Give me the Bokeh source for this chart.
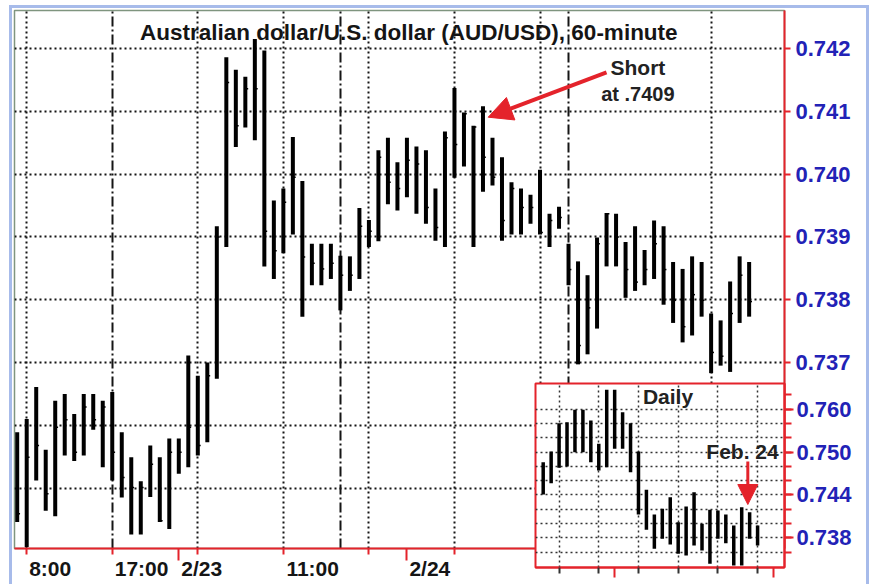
import numpy as np
from bokeh.plotting import figure
from bokeh.models import (FixedTicker, Grid, Label, Arrow, NormalHead, LinearAxis,
                          ColumnDataSource, Range1d, PrintfTickFormatter)
from bokeh.embed import file_html
from bokeh.resources import INLINE

FONT = "Liberation Sans"
RED = "#e4232b"
BLUE = "#2222b6"
INK = "#151515"

# ---------------- 60-minute AUD/USD bars ----------------
hourly_high = [0.73589, 0.73610, 0.73661, 0.73561, 0.73639, 0.73650, 0.73618, 0.73650, 0.73650, 0.73639,
               0.73653, 0.73589, 0.73549, 0.73511, 0.73568, 0.73549, 0.73579, 0.73579, 0.73711, 0.73679,
               0.73700, 0.73917, 0.74186, 0.74166, 0.74155, 0.74215, 0.74197, 0.73958, 0.73977, 0.74059,
               0.73989, 0.73889, 0.73889, 0.73889, 0.73870, 0.73869, 0.73946, 0.73927, 0.74038, 0.74058,
               0.74019, 0.74058, 0.74044, 0.74038, 0.73977, 0.74068, 0.74137, 0.74098, 0.74077, 0.74108,
               0.74058, 0.74027, 0.73987, 0.73977, 0.73967, 0.74007, 0.73937, 0.73948, 0.73889, 0.73861,
               0.73839, 0.73899, 0.73938, 0.73937, 0.73892, 0.73917, 0.73879, 0.73926, 0.73917, 0.73860,
               0.73849, 0.73869, 0.73860, 0.73778, 0.73767, 0.73829, 0.73869, 0.73860]
hourly_low = [0.73446, 0.73406, 0.73512, 0.73464, 0.73455, 0.73552, 0.73543, 0.73552, 0.73593, 0.73533,
              0.73512, 0.73485, 0.73426, 0.73426, 0.73486, 0.73446, 0.73435, 0.73523, 0.73533, 0.73552,
              0.73573, 0.73674, 0.73884, 0.74043, 0.74074, 0.74054, 0.73853, 0.73833, 0.73874, 0.73904,
              0.73773, 0.73823, 0.73823, 0.73833, 0.73783, 0.73814, 0.73833, 0.73884, 0.73893, 0.73952,
              0.73942, 0.73963, 0.73937, 0.73921, 0.73894, 0.73884, 0.73994, 0.74012, 0.73884, 0.73972,
              0.73982, 0.73894, 0.73904, 0.73904, 0.73921, 0.73904, 0.73884, 0.73913, 0.73823, 0.73697,
              0.73713, 0.73754, 0.73853, 0.73853, 0.73803, 0.73814, 0.73823, 0.73833, 0.73792, 0.73763,
              0.73732, 0.73743, 0.73773, 0.73683, 0.73695, 0.73685, 0.73763, 0.73773]
hourly_close = [0.73459, 0.73549, 0.73568, 0.73491, 0.73597, 0.73609, 0.73557, 0.73629, 0.73609, 0.73629,
                0.73557, 0.73517, 0.73501, 0.73501, 0.73538, 0.73448, 0.73557, 0.73557, 0.73597, 0.73568,
                0.73679, 0.73900, 0.74146, 0.74077, 0.74136, 0.74136, 0.73909, 0.73878, 0.73955, 0.73995,
                0.73868, 0.73858, 0.73849, 0.73858, 0.73839, 0.73839, 0.73917, 0.73909, 0.74027, 0.73987,
                0.73977, 0.74022, 0.74016, 0.73947, 0.73915, 0.74058, 0.74047, 0.74096, 0.74075, 0.74027,
                0.73995, 0.73926, 0.73977, 0.73947, 0.73947, 0.73907, 0.73926, 0.73931, 0.73848, 0.73727,
                0.73787, 0.73889, 0.73937, 0.73900, 0.73848, 0.73828, 0.73848, 0.73889, 0.73848, 0.73799,
                0.73757, 0.73808, 0.73799, 0.73716, 0.73710, 0.73778, 0.73839, 0.73797]

price_ticks = [0.737, 0.738, 0.739, 0.740, 0.741, 0.742]
price_grid = [0.735, 0.736, 0.737, 0.738, 0.739, 0.740, 0.741, 0.742]
time_ticks = [1, 10, 17, 28, 41]
time_labels = ["8:00", "17:00", "2/23", "11:00", "2/24"]
day_ticks = [17, 41]
hour_ticks = [1, 10, 19, 28, 37, 46]
dotted_hours = [1, 19, 28, 37, 46, 55, 73]
session_hours = [10, 34, 58]

# ---------------- Daily inset ----------------
daily_high = [0.74859, 0.75008, 0.75404, 0.75418, 0.75592, 0.75592, 0.75442, 0.75116, 0.75871, 0.75871,
              0.75558, 0.75404, 0.75008, 0.74473, 0.74127, 0.74207, 0.74369, 0.74020, 0.74239, 0.74439,
              0.73997, 0.74193, 0.74183, 0.74127, 0.73973, 0.74229, 0.74159, 0.73973]
daily_low = [0.74407, 0.74565, 0.74780, 0.74799, 0.74999, 0.74999, 0.74859, 0.74743, 0.74789, 0.75046,
             0.75046, 0.74719, 0.74127, 0.73913, 0.73648, 0.73787, 0.73708, 0.73578, 0.73554, 0.73694,
             0.73624, 0.73438, 0.73787, 0.73726, 0.73414, 0.73414, 0.73787, 0.73694]
daily_ticks = [0.738, 0.744, 0.750, 0.756]
daily_tick_labels = ["0.738", "0.744", "0.750", "0.760"]
daily_grid = [0.736, 0.738, 0.740, 0.742, 0.744, 0.746, 0.748, 0.750, 0.752, 0.754, 0.756]
daily_minor = [0.736, 0.738, 0.740, 0.742, 0.744, 0.746, 0.748, 0.750, 0.752, 0.754, 0.756, 0.758]
week_days = [2, 7, 12, 17, 22, 27]
month_days = [9, 29]

# ================= main 60-minute chart =================
X0, X1 = -0.284, 80.72
Y0, Y1 = 0.734038, 0.742605
W, H = 854, 576
BL, BR, BT, BB = 2, 82, 2, 36
px_per_bar = (W - BL - BR) / (X1 - X0)

hours = np.arange(len(hourly_high))
src = ColumnDataSource(dict(x=hours, xr=hours + 0.3, high=hourly_high,
                            low=hourly_low, close=hourly_close))

p = figure(width=W, height=H, output_backend="svg", toolbar_location=None,
           x_range=Range1d(X0, X1), y_range=Range1d(Y0, Y1),
           y_axis_location="right",
           min_border_left=BL, min_border_right=BR, min_border_top=BT, min_border_bottom=BB,
           background_fill_color="white", border_fill_color="white",
           outline_line_color="#7f957f", outline_line_width=1.5,
           styles={"position": "absolute", "left": "12px", "top": "8px",
                   "box-shadow": "0 0 0 3px #a7bbea"})

# grids
p.ygrid.ticker = FixedTicker(ticks=price_grid)
p.ygrid.grid_line_color = INK
p.ygrid.grid_line_dash = "2 3"
p.ygrid.grid_line_width = 2
p.xgrid.ticker = FixedTicker(ticks=dotted_hours)
p.xgrid.grid_line_color = INK
p.xgrid.grid_line_dash = "2 3"
p.xgrid.grid_line_width = 2
p.add_layout(Grid(dimension=0, ticker=FixedTicker(ticks=session_hours),
                  grid_line_color=INK, grid_line_dash="10 3 2 3", grid_line_width=2))

# right axis
yax = p.yaxis[0]
yax.ticker = FixedTicker(ticks=price_ticks, minor_ticks=[])
yax.formatter = PrintfTickFormatter(format="%.3f")
yax.axis_line_color = RED
yax.axis_line_width = 2
yax.major_tick_line_color = RED
yax.major_tick_line_width = 2
yax.major_tick_out = 6
yax.major_tick_in = 0
yax.major_label_standoff = 5
yax.major_label_text_font = FONT
yax.major_label_text_font_style = "bold"
yax.major_label_text_font_size = "22px"
yax.major_label_text_color = BLUE

# bottom axis: short ticks on the hour grid, long ticks at the day breaks
xax = p.xaxis[0]
xax.ticker = FixedTicker(ticks=hour_ticks, minor_ticks=day_ticks)
xax.major_label_overrides = {t: "" for t in hour_ticks}
xax.axis_line_color = RED
xax.axis_line_width = 2
xax.major_tick_line_color = RED
xax.major_tick_line_width = 2
xax.major_tick_out = 6
xax.major_tick_in = 0
xax.minor_tick_line_color = RED
xax.minor_tick_line_width = 2
xax.minor_tick_out = 12
xax.minor_tick_in = 0
xax.major_label_standoff = 0
xax.major_label_text_font_size = "1px"

# time labels: start just right of their tick, as in the original
LABEL_PX = 21
ADV = {":": 0.333, "/": 0.278}          # bold sans advance widths (em); digits 0.556


def text_em(s):
    return sum(ADV.get(c, 0.556) for c in s)


label_pos = [float(t + (0.5 * text_em(s) * LABEL_PX + 2.5) / px_per_bar)
             for t, s in zip(time_ticks, time_labels)]
lax = LinearAxis(ticker=FixedTicker(ticks=label_pos, minor_ticks=[]),
                 major_label_overrides={pos: s for pos, s in zip(label_pos, time_labels)},
                 axis_line_color=None, major_tick_out=0, major_tick_in=0,
                 minor_tick_out=0, minor_tick_in=0, major_label_standoff=-4,
                 major_label_text_font=FONT, major_label_text_font_style="bold",
                 major_label_text_font_size=f"{LABEL_PX}px", major_label_text_color=INK)
p.add_layout(lax, "below")

# bars
p.segment(x0="x", y0="low", x1="x", y1="high", source=src,
          line_color="black", line_width=4, line_cap="butt")
p.segment(x0="x", y0="close", x1="xr", y1="close", source=src,
          line_color="black", line_width=1.5, line_cap="butt")

# texts & arrow
p.add_layout(Label(x=41.2, y=0.742255, text="Australian dollar/U.S. dollar (AUD/USD), 60-minute",
                   text_align="center", text_baseline="middle", text_font=FONT,
                   text_font_style="bold", text_font_size="22.5px", text_color=INK))
p.add_layout(Label(x=65.3, y=0.74169, text="Short", text_align="center", text_baseline="middle",
                   text_font=FONT, text_font_style="bold", text_font_size="21px", text_color="#222222"))
p.add_layout(Label(x=65.3, y=0.741268, text="at .7409", text_align="center", text_baseline="middle",
                   text_font=FONT, text_font_style="bold", text_font_size="20px", text_color="#222222"))
p.add_layout(Arrow(end=NormalHead(size=24, fill_color=RED, line_color=RED),
                   x_start=62.0, y_start=0.741618, x_end=49.55, y_end=0.740906,
                   line_color=RED, line_width=4))

# ================= daily inset =================
days = np.arange(len(daily_high))
dsrc = ColumnDataSource(dict(x=days, high=daily_high, low=daily_low))

ip = figure(width=331, height=200, output_backend="svg", toolbar_location=None,
            x_range=Range1d(-0.97, 30.39), y_range=Range1d(0.73386, 0.759594),
            y_axis_location="right",
            min_border_left=2, min_border_right=80, min_border_top=2, min_border_bottom=14,
            background_fill_color="white", border_fill_color=None, border_fill_alpha=0,
            outline_line_color=RED, outline_line_width=2,
            styles={"position": "absolute", "left": "533px", "top": "381px"})

ip.ygrid.ticker = FixedTicker(ticks=daily_grid)
ip.ygrid.grid_line_color = "#333333"
ip.ygrid.grid_line_dash = "2 3"
ip.ygrid.grid_line_width = 1.5
ip.xgrid.ticker = FixedTicker(ticks=week_days)
ip.xgrid.grid_line_color = "#333333"
ip.xgrid.grid_line_dash = "2 3"
ip.xgrid.grid_line_width = 1.5

iy = ip.yaxis[0]
iy.ticker = FixedTicker(ticks=daily_ticks, minor_ticks=daily_minor)
iy.major_label_overrides = {t: lbl for t, lbl in zip(daily_ticks, daily_tick_labels)}
iy.axis_line_color = RED
iy.axis_line_width = 2
iy.major_tick_line_color = RED
iy.major_tick_line_width = 2
iy.major_tick_out = 9
iy.major_tick_in = 0
iy.minor_tick_line_color = RED
iy.minor_tick_line_width = 2
iy.minor_tick_out = 7
iy.minor_tick_in = 0
iy.major_label_standoff = 3
iy.major_label_text_font = FONT
iy.major_label_text_font_style = "bold"
iy.major_label_text_font_size = "22px"
iy.major_label_text_color = BLUE

ix = ip.xaxis[0]
ix.ticker = FixedTicker(ticks=month_days, minor_ticks=week_days)
ix.major_label_overrides = {t: "" for t in month_days}
ix.axis_line_color = RED
ix.axis_line_width = 2
ix.major_tick_line_color = RED
ix.major_tick_line_width = 2
ix.major_tick_out = 10
ix.major_tick_in = 0
ix.minor_tick_line_color = "#333333"
ix.minor_tick_line_width = 2
ix.minor_tick_out = 6
ix.minor_tick_in = 0
ix.major_label_standoff = 0
ix.major_label_text_font_size = "1px"

ip.segment(x0="x", y0="low", x1="x", y1="high", source=dsrc,
           line_color="black", line_width=3.5, line_cap="butt")

ip.add_layout(Label(x=15.72, y=0.757706, text="Daily", text_align="center", text_baseline="middle",
                    text_font=FONT, text_font_style="bold", text_font_size="21px", text_color="#222222"))
ip.add_layout(Label(x=25.1, y=0.75008, text="Feb. 24", text_align="center", text_baseline="middle",
                    text_font=FONT, text_font_style="bold", text_font_size="21px", text_color="#222222"))
ip.add_layout(Arrow(end=NormalHead(size=20, fill_color=RED, line_color=RED),
                    x_start=25.77, y_start=0.748685, x_end=25.77, y_end=0.742671,
                    line_color=RED, line_width=3))

open("out.html", "w").write(file_html([p, ip], INLINE, title="AUD/USD 60-minute"))
